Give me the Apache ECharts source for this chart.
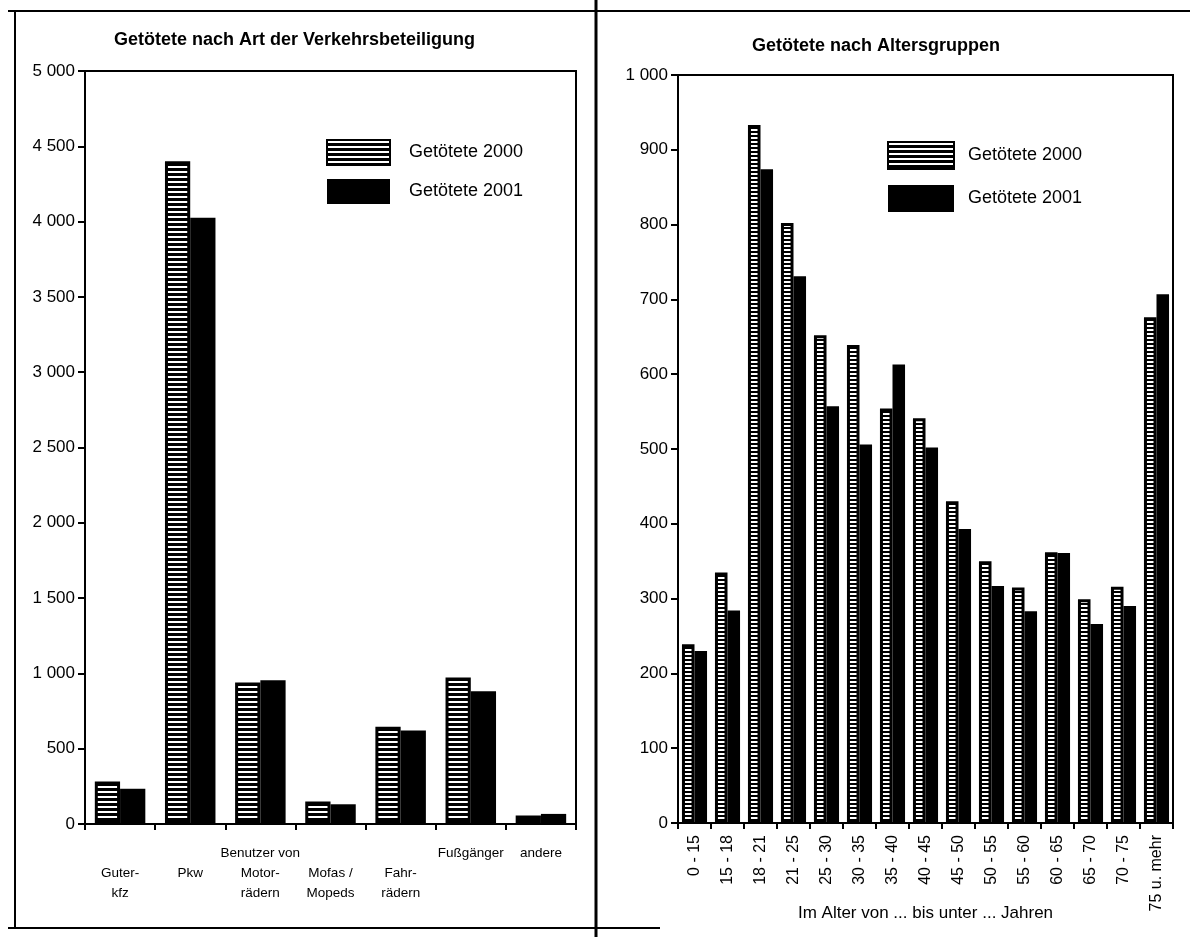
<!DOCTYPE html>
<html>
<head>
<meta charset="utf-8">
<script src="https://cdn.jsdelivr.net/npm/echarts@6/dist/echarts.min.js"></script>
<style>
html,body{margin:0;padding:0;background:#fff;}
#chart{width:1190px;height:937px;}
</style>
</head>
<body>
<div id="chart"></div>
<script>
// ---- data ----
const leftTitle = 'Getötete nach Art der Verkehrsbeteiligung';
const rightTitle = 'Getötete nach Altersgruppen';
const seriesNames = ['Getötete 2000', 'Getötete 2001'];
const leftCategories = ['Guter-\nkfz', 'Pkw', 'Benutzer von\nMotor-\nrädern', 'Mofas /\nMopeds', 'Fahr-\nrädern', 'Fußgänger', 'andere'];
const left2000 = [283, 4400, 940, 149, 646, 973, 56];
const left2001 = [234, 4025, 955, 131, 621, 882, 67];
const rightCategories = ['0 - 15', '15 - 18', '18 - 21', '21 - 25', '25 - 30', '30 - 35', '35 - 40', '40 - 45', '45 - 50', '50 - 55', '55 - 60', '60 - 65', '65 - 70', '70 - 75', '75 u. mehr'];
const right2000 = [239, 335, 933, 802, 652, 639, 554, 541, 430, 350, 315, 362, 299, 316, 676];
const right2001 = [230, 284, 874, 731, 557, 506, 613, 502, 393, 317, 283, 361, 266, 290, 707];
const rightAxisName = 'Im Alter von ... bis unter ... Jahren';

// ---- presentation ----
const FONT = '"Liberation Sans", Arial, sans-serif';
// labels in the left chart that begin on the second text line
const leftLowStart = [true, true, false, true, true, false, false];

function stripes(period, white) {
  const c = document.createElement('canvas');
  c.width = 8; c.height = period;
  const g = c.getContext('2d');
  g.fillStyle = '#000'; g.fillRect(0, 0, 8, period);
  g.fillStyle = '#fff'; g.fillRect(0, 1, 8, white);
  return c;
}
const patLeft = { image: stripes(5, 2), repeat: 'repeat' };
const patRight = { image: stripes(4, 2), repeat: 'repeat' };

function fmtThousands(v) {
  const s = String(Math.round(v));
  return s.replace(/\B(?=(\d{3})+(?!\d))/g, ' ');
}

const axisLineStyle = { color: '#000', width: 2 };

const chart = echarts.init(document.getElementById('chart'), null, { renderer: 'canvas' });
chart.setOption({
  animation: false,
  backgroundColor: '#fff',
  textStyle: { fontFamily: FONT, color: '#000' },
  title: [
    { text: leftTitle, left: 114, top: 31, padding: 0,
      textStyle: { fontFamily: FONT, fontSize: 18, fontWeight: 'bold', color: '#000' } },
    { text: rightTitle, left: 752, top: 37, padding: 0,
      textStyle: { fontFamily: FONT, fontSize: 18, fontWeight: 'bold', color: '#000' } }
  ],
  legend: [
    { orient: 'vertical', left: 326, top: 139, itemWidth: 63, itemHeight: 25, itemGap: 13,
      icon: 'rect',
      data: seriesNames, selectedMode: false, padding: 0,
      formatter: '{t|{name}}',
      textStyle: { fontFamily: FONT, fontSize: 18, color: '#000', rich: { t: { fontFamily: FONT, fontSize: 18, color: '#000', padding: [0, 0, 0, 14] } } } },
    { orient: 'vertical', left: 887, top: 141, itemWidth: 66, itemHeight: 27, itemGap: 15,
      icon: 'rect',
      data: seriesNames, selectedMode: false, padding: 0,
      formatter: '{t|{name}}',
      textStyle: { fontFamily: FONT, fontSize: 18, color: '#000', rich: { t: { fontFamily: FONT, fontSize: 18, color: '#000', padding: [0, 0, 0, 9] } } } }
  ],
  grid: [
    { left: 85, right: 1190 - 576, top: 71, bottom: 937 - 824, show: true, borderColor: '#000', borderWidth: 2, backgroundColor: 'transparent',
      containLabel: false, outerBoundsMode: 'none' },
    { left: 678, right: 1190 - 1173, top: 75, bottom: 937 - 823, show: true, borderColor: '#000', borderWidth: 2, backgroundColor: 'transparent',
      containLabel: false, outerBoundsMode: 'none' }
  ],
  xAxis: [
    { type: 'category', gridIndex: 0, data: leftCategories,
      axisLine: { lineStyle: axisLineStyle },
      axisTick: { show: true, length: 6, lineStyle: { color: '#000', width: 2 } },
      axisLabel: { interval: 0, margin: 19, fontFamily: FONT, fontSize: 13.5, color: '#000', lineHeight: 20, align: 'center',
        formatter: (v, i) => (leftLowStart[i] ? '\n' : '') + v } },
    { type: 'category', gridIndex: 1, data: rightCategories,
      name: rightAxisName, nameLocation: 'middle', nameGap: 82, nameMoveOverlap: false,
      nameTextStyle: { fontFamily: FONT, fontSize: 17, color: '#000', verticalAlign: 'top' },
      axisLine: { lineStyle: axisLineStyle },
      axisTick: { show: true, length: 6, lineStyle: { color: '#000', width: 2 } },
      axisLabel: { interval: 0, rotate: 90, margin: 12, fontFamily: FONT, fontSize: 16, color: '#000' } }
  ],
  yAxis: [
    { type: 'value', gridIndex: 0, min: 0, max: 5000, interval: 500,
      axisLine: { show: true, lineStyle: axisLineStyle },
      axisTick: { show: true, length: 7, lineStyle: { color: '#000', width: 2 } },
      splitLine: { show: false },
      axisLabel: { margin: 10, fontFamily: FONT, fontSize: 17, color: '#000', formatter: fmtThousands } },
    { type: 'value', gridIndex: 1, min: 0, max: 1000, interval: 100,
      axisLine: { show: true, lineStyle: axisLineStyle },
      axisTick: { show: true, length: 7, lineStyle: { color: '#000', width: 2 } },
      splitLine: { show: false },
      axisLabel: { margin: 10, fontFamily: FONT, fontSize: 17, color: '#000', formatter: fmtThousands } }
  ],
  series: [
    { name: seriesNames[0], type: 'bar', xAxisIndex: 0, yAxisIndex: 0, data: left2000,
      barGap: '0%', barCategoryGap: '28%',
      itemStyle: { color: patLeft, borderColor: '#000', borderWidth: 3 } },
    { name: seriesNames[1], type: 'bar', xAxisIndex: 0, yAxisIndex: 0, data: left2001,
      barGap: '0%', barCategoryGap: '28%',
      itemStyle: { color: '#000', borderColor: '#000', borderWidth: 0 } },
    { name: seriesNames[0], type: 'bar', xAxisIndex: 1, yAxisIndex: 1, data: right2000,
      barGap: '0%', barCategoryGap: '24%',
      itemStyle: { color: patRight, borderColor: '#000', borderWidth: 3 } },
    { name: seriesNames[1], type: 'bar', xAxisIndex: 1, yAxisIndex: 1, data: right2001,
      barGap: '0%', barCategoryGap: '24%',
      itemStyle: { color: '#000', borderColor: '#000', borderWidth: 0 } }
  ],
  graphic: [
    { type: 'line', shape: { x1: 8, y1: 11, x2: 1190, y2: 11 }, style: { stroke: '#000', lineWidth: 2 } },
    { type: 'line', shape: { x1: 15, y1: 11, x2: 15, y2: 928 }, style: { stroke: '#000', lineWidth: 2 } },
    { type: 'line', shape: { x1: 8, y1: 928, x2: 660, y2: 928 }, style: { stroke: '#000', lineWidth: 2 } },
    { type: 'line', shape: { x1: 596, y1: 0, x2: 596, y2: 937 }, style: { stroke: '#000', lineWidth: 3 } }
  ]
});
</script>
</body>
</html>
